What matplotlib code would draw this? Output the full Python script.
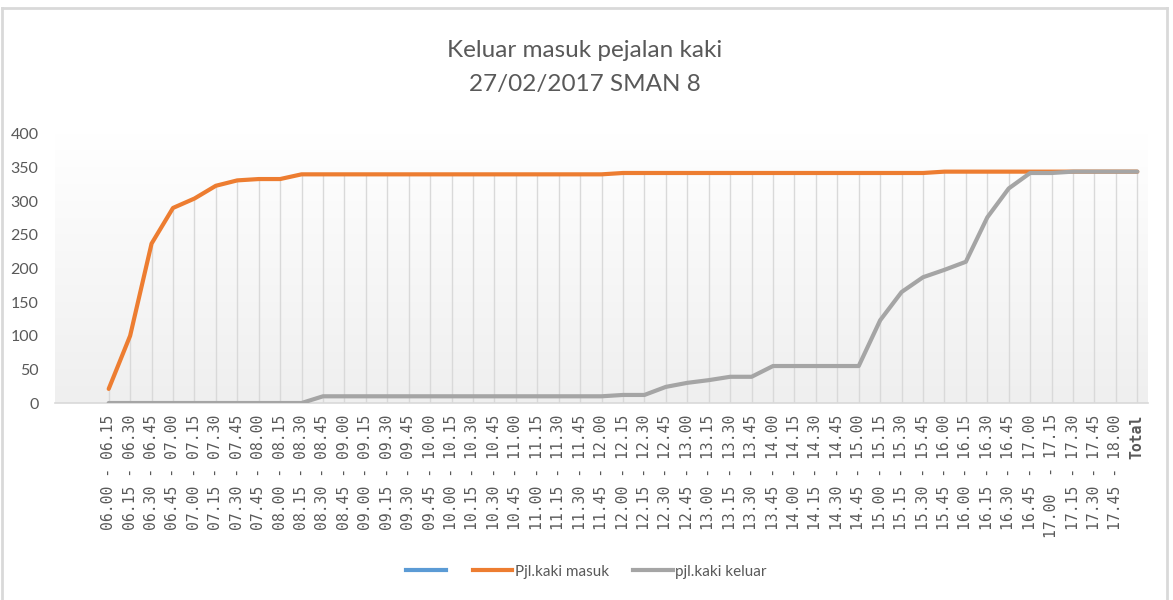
import matplotlib
matplotlib.use("Agg")
import matplotlib.pyplot as plt
import numpy as np
from matplotlib.lines import Line2D

labels = ["06.00 - 06.15", "06.15 - 06.30", "06.30 - 06.45", "06.45 - 07.00",
          "07.00 - 07.15", "07.15 - 07.30", "07.30 - 07.45", "07.45 - 08.00",
          "08.00 - 08.15", "08.15 - 08.30", "08.30 - 08.45", "08.45 - 09.00",
          "09.00 - 09.15", "09.15 - 09.30", "09.30 - 09.45", "09.45 - 10.00",
          "10.00 - 10.15", "10.15 - 10.30", "10.30 - 10.45", "10.45 - 11.00",
          "11.00 - 11.15", "11.15 - 11.30", "11.30 - 11.45", "11.45 - 12.00",
          "12.00 - 12.15", "12.15 - 12.30", "12.30 - 12.45", "12.45 - 13.00",
          "13.00 - 13.15", "13.15 - 13.30", "13.30 - 13.45", "13.45 - 14.00",
          "14.00 - 14.15", "14.15 - 14.30", "14.30 - 14.45", "14.45 - 15.00",
          "15.00 - 15.15", "15.15 - 15.30", "15.30 - 15.45", "15.45 - 16.00",
          "16.00 - 16.15", "16.15 - 16.30", "16.30 - 16.45", "16.45 - 17.00",
          "17.00  - 17.15", "17.15 - 17.30", "17.30 - 17.45", "17.45 - 18.00",
          "Total"]

masuk = [21, 100, 237, 290, 304, 323, 331, 333, 333, 340,
         340, 340, 340, 340, 340, 340, 340, 340, 340, 340, 340, 340, 340, 340,
         342, 342, 342, 342, 342, 342, 342, 342, 342, 342, 342, 342, 342, 342, 342,
         344, 344, 344, 344, 344, 344, 344, 344, 344,
         344]

keluar = [0, 0, 0, 0, 0, 0, 0, 0, 0, 0,
          10, 10, 10, 10, 10, 10, 10, 10, 10, 10, 10, 10, 10, 10,
          12, 12, 24, 30, 34, 39, 39, 55, 55, 55, 55, 55,
          123, 165, 187, 198, 210, 276, 319, 342, 342, 344, 344, 344,
          344]

grey_txt = "#595959"
x = np.arange(len(labels))

fig = plt.figure(figsize=(11.73, 6.0), dpi=100)
ax = fig.add_axes([0.047, 0.3283, 0.9317, 0.4484])
ax.set_xlim(-2.5, len(labels) - 0.5)
ax.set_ylim(0, 400)

# plot area gradient, white at top to light grey at bottom
grad = np.linspace(1.0, 0.0, 256).reshape(-1, 1)
ax.imshow(grad, extent=[-2.5, len(labels) - 0.5, 0, 400], aspect="auto",
          cmap=matplotlib.colors.LinearSegmentedColormap.from_list("g", ["#efefef", "#ffffff"]),
          vmin=0, vmax=1, zorder=0)

# drop lines
top = np.maximum(masuk, keluar)
ax.vlines(x, 0, top, color="#d9d9d9", lw=1, zorder=1)

ax.plot(x, masuk, color="#ed7d31", lw=3, solid_capstyle="round", zorder=3)
ax.plot(x, keluar, color="#a5a5a5", lw=3, solid_capstyle="round", zorder=4)

for s in ["top", "right", "left"]:
    ax.spines[s].set_visible(False)
ax.spines["bottom"].set_color("#d9d9d9")
ax.spines["bottom"].set_linewidth(1.2)

ax.set_yticks(range(0, 401, 50))
ax.tick_params(axis="y", length=0, pad=12, labelsize=11.5, colors=grey_txt)
for t in ax.get_yticklabels():
    t.set_family("Lato")
ax.set_xticks(x)
ax.set_xticklabels(labels, rotation=90, family="DejaVu Sans Mono", fontsize=10.6,
                   color=grey_txt, va="top", ha="center")
ax.get_xticklabels()[-1].set_fontweight("bold")
ax.tick_params(axis="x", length=0, pad=8)

fig.text(0.4987, 0.888, "Keluar masuk pejalan kaki\n27/02/2017 SMAN 8", ha="center",
         va="center", fontsize=17.5, color=grey_txt, family="Lato",
         linespacing=1.75)

handles = [Line2D([], [], color="#5b9bd5", lw=3),
           Line2D([], [], color="#ed7d31", lw=3),
           Line2D([], [], color="#a5a5a5", lw=3)]
fig.legend(handles, ["", "Pjl.kaki masuk", "pjl.kaki keluar"], loc="center",
           bbox_to_anchor=(0.5, 0.047), ncol=3, frameon=False, handlelength=2.6,
           handletextpad=0.15, columnspacing=1.6,
           prop={"family": "Lato", "size": 11},
           labelcolor=grey_txt)

# chart border
bc = "#d9d9d9"
fig.add_artist(Line2D([0.002, 0.995], [0.987, 0.987], color=bc, lw=2, transform=fig.transFigure))
fig.add_artist(Line2D([0.002, 0.002], [0.0, 0.987], color=bc, lw=2, transform=fig.transFigure))
fig.add_artist(Line2D([0.995, 0.995], [0.0, 0.987], color=bc, lw=2, transform=fig.transFigure))

fig.savefig("out.png", dpi=100)
